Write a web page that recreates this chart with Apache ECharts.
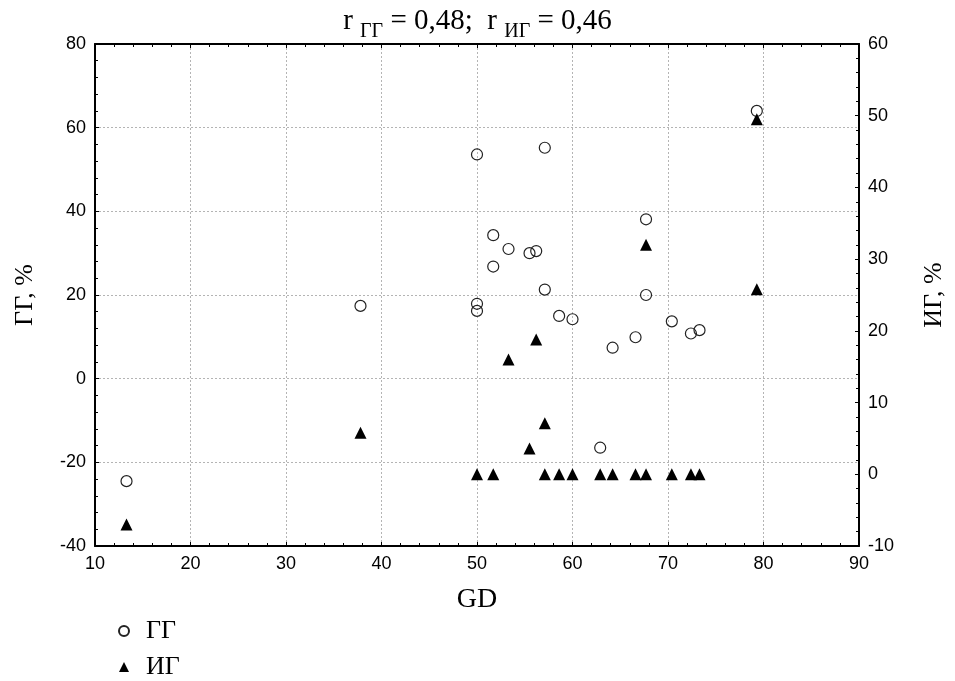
<!DOCTYPE html>
<html>
<head>
<meta charset="utf-8">
<script src="https://cdn.jsdelivr.net/npm/echarts@6/dist/echarts.min.js"></script>
<style>html,body{margin:0;padding:0;background:#fff}#c{width:955px;height:681px}</style>
</head>
<body>
<div id="c"></div>
<script>
// ГГ series (left axis)
const gdGG  = [13.3, 37.8, 50.0, 50.0, 50.0, 57.1, 51.7, 53.3, 55.5, 56.2, 51.7, 57.1, 58.6, 60.0, 64.2, 66.6, 67.7, 67.7, 70.4, 72.4, 73.3, 79.3, 62.9];
const valGG = [-24.5, 17.4, 17.9, 16.2, 53.6, 55.2, 34.3, 31.0, 30.0, 30.5, 26.8, 21.3, 15.0, 14.2, 7.4, 9.9, 38.1, 20.0, 13.7, 10.8, 11.6, 64.0, -16.5];
// ИГ series (right axis)
const gdIG  = [13.3, 37.8, 53.3, 55.5, 56.2, 57.1, 67.7, 79.3, 79.3, 50.0, 51.7, 57.1, 58.6, 60.0, 62.9, 64.2, 66.6, 67.7, 70.4, 72.4, 73.3];
const valIG = [-7.0, 5.8, 16.0, 3.6, 18.8, 7.1, 32.0, 49.5, 25.8, 0, 0, 0, 0, 0, 0, 0, 0, 0, 0, 0, 0];

const seriesNames = ['ГГ', 'ИГ'];
const titleText = '{a|r }{s|ГГ}{a| = 0,48;  r }{s|ИГ}{a| = 0,46}';
const xName = 'GD';
const yLeftName = 'ГГ, %';
const yRightName = 'ИГ, %';

const SANS = 'Liberation Sans';
const SERIF = 'Liberation Serif';

const axisLine = {show: true, onZero: false, lineStyle: {color: '#000', width: 2}};
const tick = {show: true, inside: true, length: 4, lineStyle: {color: '#000', width: 1}};
const minor = {show: true, splitNumber: 5, length: 3, lineStyle: {color: '#000', width: 1}};
const grid = {show: true, lineStyle: {color: '#b4b4b4', type: [2, 2], width: 1}};
const lbl = {fontFamily: SANS, fontSize: 18, color: '#000', margin: 9};

const chart = echarts.init(document.getElementById('c'), null, {renderer: 'canvas'});
chart.setOption({
  animation: false,
  backgroundColor: '#fff',
  title: {
    text: titleText,
    left: 'center',
    top: 2,
    textStyle: {
      fontWeight: 'normal',
      rich: {
        a: {fontFamily: SERIF, fontSize: 29, fontWeight: 'normal', color: '#000', verticalAlign: 'bottom', padding: [0, 0, 6, 0]},
        s: {fontFamily: SERIF, fontSize: 20, fontWeight: 'normal', color: '#000', verticalAlign: 'bottom'}
      }
    }
  },
  legend: {
    orient: 'vertical',
    left: 118,
    top: 618,
    height: 63,
    padding: 0,
    itemGap: 10,
    itemWidth: 10,
    itemHeight: 10,
    data: seriesNames,
    textStyle: {fontFamily: SERIF, fontSize: 26, lineHeight: 24, color: '#000', padding: [0, 0, 0, 12]}
  },
  grid: {left: 95, right: 90, top: 44, bottom: 135},
  xAxis: [
    {
      type: 'value', min: 10, max: 90, interval: 10, position: 'bottom',
      name: xName, nameLocation: 'middle', nameGap: 40,
      nameTextStyle: {fontFamily: SERIF, fontSize: 28, color: '#000'},
      axisLine: axisLine, axisTick: tick, minorTick: minor,
      axisLabel: lbl, splitLine: grid
    },
    {
      type: 'value', min: 10, max: 90, interval: 10, position: 'top',
      axisLine: axisLine, axisTick: tick, minorTick: minor,
      axisLabel: {show: false}, splitLine: {show: false}
    }
  ],
  yAxis: [
    {
      type: 'value', min: -40, max: 80, interval: 20, position: 'left',
      name: yLeftName, nameLocation: 'middle', nameGap: 57,
      nameTextStyle: {fontFamily: SERIF, fontSize: 26, color: '#000'},
      axisLine: axisLine, axisTick: tick, minorTick: minor,
      axisLabel: lbl, splitLine: grid
    },
    {
      type: 'value', min: -10, max: 60, interval: 10, position: 'right',
      name: yRightName, nameLocation: 'middle', nameGap: 62, nameRotate: 90,
      nameTextStyle: {fontFamily: SERIF, fontSize: 26, color: '#000'},
      axisLine: axisLine, axisTick: tick, minorTick: minor,
      axisLabel: lbl, splitLine: {show: false}
    }
  ],
  series: [
    {
      name: seriesNames[0], type: 'scatter', xAxisIndex: 0, yAxisIndex: 0,
      symbol: 'circle', symbolSize: 11,
      itemStyle: {color: 'rgba(255,255,255,0)', borderColor: '#222', borderWidth: 1.2, opacity: 1},
      data: gdGG.map((x, i) => [x, valGG[i]])
    },
    {
      name: seriesNames[1], type: 'scatter', xAxisIndex: 0, yAxisIndex: 1,
      symbol: 'triangle', symbolSize: 12,
      itemStyle: {color: '#000', opacity: 1},
      data: gdIG.map((x, i) => [x, valIG[i]])
    }
  ]
});
</script>
</body>
</html>
